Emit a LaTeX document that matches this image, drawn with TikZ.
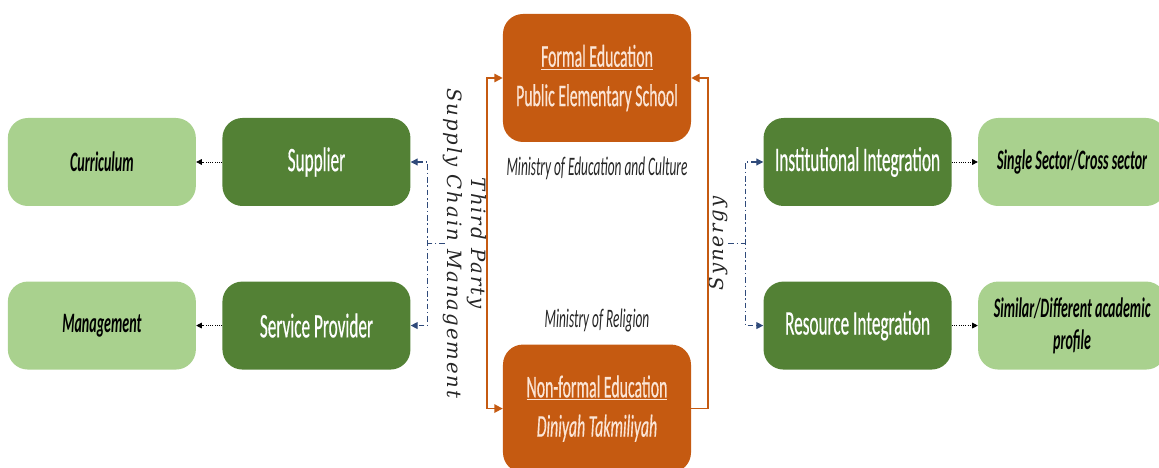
\documentclass[tikz,border=0pt]{standalone}
\usepackage{fontspec}
\usepackage{xcolor}
\usepackage{tikz}
\usetikzlibrary{positioning, calc, arrows.meta}
\newfontfamily\boxfont[FakeStretch=0.5]{Carlito}
\newfontfamily\rolefont[FakeStretch=0.5, FakeBold=0.4]{Carlito}
\newfontfamily\sidefont[LetterSpace=10]{DejaVu Serif}
\definecolor{darkgreen}{HTML}{538135}
\definecolor{lightgreen}{HTML}{A9D18E}
\definecolor{burnt}{HTML}{C55A11}
\definecolor{peach}{HTML}{FBE5D6}
\definecolor{navy}{HTML}{2F4A7A}
\tikzstyle{outcome} = [rectangle, rounded corners=0.5cm, minimum width=4.7cm, minimum height=2.2cm, text centered, align=center, fill=lightgreen, text=black, font=\boxfont\fontsize{20}{23}\selectfont\bfseries\itshape]
\tikzstyle{role} = [rectangle, rounded corners=0.5cm, minimum width=4.7cm, minimum height=2.2cm, text centered, fill=darkgreen, text=white, font=\rolefont\fontsize{24.5}{28}\selectfont]
\tikzstyle{school} = [rectangle, rounded corners=0.5cm, minimum width=4.7cm, minimum height=3.2cm, text centered, align=center, fill=burnt, text=peach, font=\rolefont\fontsize{22.5}{28}\selectfont]
\tikzstyle{ministry} = [inner sep=0pt, text=black!85, font=\boxfont\fontsize{19}{22}\selectfont\itshape]
\tikzstyle{sidelabel} = [inner sep=0pt, align=center, text=black!85, font=\sidefont\fontsize{14}{17}\selectfont\itshape]
\tikzstyle{orangebus} = [line width=1.2pt, draw=burnt, {Triangle[length=6pt,width=6pt]}-{Triangle[length=6pt,width=6pt]}]
\tikzstyle{orangearrow} = [line width=1.2pt, draw=burnt, -{Triangle[length=6pt,width=6pt]}]
\tikzstyle{navybus} = [line width=0.8pt, draw=navy, dash pattern=on 4pt off 2pt on 1pt off 2pt, {Triangle[length=5pt,width=5pt]}-{Triangle[length=5pt,width=5pt]}]
\tikzstyle{navyline} = [line width=0.8pt, draw=navy, dash pattern=on 4pt off 2pt on 1pt off 2pt]
\tikzstyle{dotarrow} = [line width=0.6pt, densely dotted, -{Triangle[length=4pt,width=4pt]}]

\begin{document}
\begin{tikzpicture}
	\useasboundingbox (-14.925,1.95) rectangle (14.05,-9.75);

	\node (formal) [school] {\underline{Formal Education}\\Public Elementary School};
	\node (nonformal) [school, below=5.05cm of formal] {\underline{Non-formal Education}\\\itshape Diniyah Takmiliyah};
	\node (supplier) [role, left=2.3cm of formal, yshift=-2.1cm] {Supplier};
	\node (service) [role, below=1.875cm of supplier] {Service Provider};
	\node (curriculum) [outcome, left=0.65cm of supplier] {Curriculum};
	\node (management) [outcome, left=0.65cm of service] {Management};
	\node (instit) [role, right=1.8cm of formal, yshift=-2.1cm] {Institutional Integration};
	\node (resource) [role, below=1.875cm of instit] {Resource Integration};
	\node (sector) [outcome, right=0.65cm of instit] {Single Sector/Cross sector};
	\node (profile) [outcome, right=0.65cm of resource] {Similar/Different academic\\profile};

	\node (moec) [ministry, below=0.35cm of formal] {Ministry of Education and Culture};
	\node (mor) [ministry, above=0.3cm of nonformal] {Ministry of Religion};

	\coordinate (midleft) at ($(formal.west)!0.5!(nonformal.west)$);
	\coordinate (midright) at ($(formal.east)!0.5!(nonformal.east)$);
	\node (scm) [sidelabel, rotate=-90] at ($(midleft)+(-0.95,0)$) {Third Party\\Supply Chain Management};
	\node (synergy) [sidelabel, rotate=90] at ($(midright)+(0.675,0)$) {Synergy};

	\draw [orangebus] (formal.west) -- ++(-0.4,0) |- (nonformal.west);
	\draw [orangearrow] (nonformal.east) -- ++(0.425,0) |- (formal.east);

	\coordinate (lbus) at ($(supplier.east)!0.5!(service.east)+(0.425,0)$);
	\coordinate (lstub) at ($(lbus)+(0.43,0)$);
	\coordinate (rbus) at ($(instit.west)!0.5!(resource.west)+(-0.45,0)$);
	\coordinate (rstub) at ($(rbus)+(-0.43,0)$);
	\draw [navybus] (supplier.east) -- ++(0.425,0) |- (service.east);
	\draw [navyline] (lstub) -- (lbus);
	\draw [navybus] (instit.west) -- ++(-0.45,0) |- (resource.west);
	\draw [navyline] (rstub) -- (rbus);

	\draw [dotarrow] (supplier) -- (curriculum);
	\draw [dotarrow] (service) -- (management);
	\draw [dotarrow] (instit) -- (sector);
	\draw [dotarrow] (resource) -- (profile);
\end{tikzpicture}
\end{document}
